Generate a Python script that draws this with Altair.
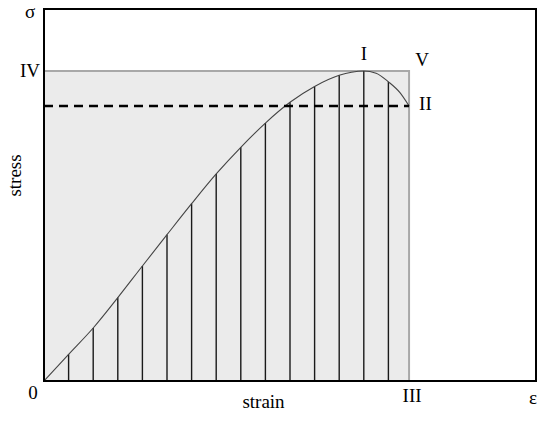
import altair as alt
import pandas as pd

# curve (strain, stress)
curve_strain = [0, 1, 2, 3, 4, 5, 6, 7, 8, 9, 10, 11, 12, 12.5, 13, 13.5, 14, 14.47, 14.84]
curve_stress = [0, 0.86, 1.71, 2.69, 3.71, 4.72, 5.72, 6.68, 7.54, 8.32, 8.99, 9.50, 9.86, 9.96, 10.0, 9.93, 9.65, 9.30, 8.87]

# hatching lines at integer strains
hatch_strain = [1, 2, 3, 4, 5, 6, 7, 8, 9, 10, 11, 12, 13, 14]
hatch_stress = [0.86, 1.71, 2.69, 3.71, 4.72, 5.72, 6.68, 7.54, 8.32, 8.99, 9.50, 9.86, 10.0, 9.65]

strain_max = 14.84
stress_peak = 10.0
peak_strain = 13
dashed_level = 8.87
x_dom = [0, 20]
y_dom = [0, 12]

FONT = "Liberation Serif"
FS = 19

xs = alt.Scale(domain=x_dom, nice=False, zero=False)
ys = alt.Scale(domain=y_dom, nice=False, zero=False)

curve_df = pd.DataFrame({"strain": curve_strain, "stress": curve_stress})
hatch_df = pd.DataFrame({"strain": hatch_strain, "stress": hatch_stress})
rect_df = pd.DataFrame({"x": [0], "x2": [strain_max], "y": [0], "y2": [stress_peak]})
frame_df = pd.DataFrame({"x": [x_dom[0]], "x2": [x_dom[1]], "y": [y_dom[0]], "y2": [y_dom[1]]})
dash_df = pd.DataFrame({"x": [0], "x2": [strain_max], "y": [dashed_level]})

xaxis = alt.Axis(title="strain", domain=False, ticks=False, labels=False, grid=False,
                 titleFont=FONT, titleFontSize=FS, titleFontWeight="normal", titleColor="black",
                 titleX=219, titleY=26, titleBaseline="alphabetic", titleAlign="center")
yaxis = alt.Axis(title="stress", domain=False, ticks=False, labels=False, grid=False,
                 titleFont=FONT, titleFontSize=FS, titleFontWeight="normal", titleColor="black",
                 titleX=-24, titleY=166, titleAngle=270, titleBaseline="alphabetic", titleAlign="center")

rect = alt.Chart(rect_df).mark_rect(fill="#ebebeb", stroke="#a8a8a8", strokeWidth=2).encode(
    x=alt.X("x:Q", scale=xs, axis=xaxis), x2="x2", y=alt.Y("y:Q", scale=ys, axis=yaxis), y2="y2")

hatch = alt.Chart(hatch_df).mark_rule(color="#1a1a1a", strokeWidth=1.4).encode(
    x=alt.X("strain:Q", scale=xs), y=alt.Y("stress:Q", scale=ys), y2=alt.datum(0))

curve = alt.Chart(curve_df).mark_line(color="#444444", strokeWidth=1.1, interpolate="monotone").encode(
    x=alt.X("strain:Q", scale=xs), y=alt.Y("stress:Q", scale=ys))

dash = alt.Chart(dash_df).mark_rule(color="black", strokeWidth=2.5, strokeDash=[9, 6]).encode(
    x=alt.X("x:Q", scale=xs), x2="x2", y=alt.Y("y:Q", scale=ys))

frame = alt.Chart(frame_df).mark_rect(fill=None, fillOpacity=0, stroke="black", strokeWidth=2).encode(
    x=alt.X("x:Q", scale=xs), x2="x2", y=alt.Y("y:Q", scale=ys), y2="y2")


def label(text, x, y, dx=0, dy=0, align="center", baseline="middle", size=FS):
    df = pd.DataFrame({"x": [x], "y": [y], "t": [text]})
    return alt.Chart(df).mark_text(font=FONT, fontSize=size, color="black", align=align,
                                   baseline=baseline, dx=dx, dy=dy).encode(
        x=alt.X("x:Q", scale=xs), y=alt.Y("y:Q", scale=ys), text="t:N")


labels = [
    label("σ", 0, y_dom[1], dx=-14, dy=9, baseline="alphabetic"),
    label("IV", 0, stress_peak, dx=-4, dy=0, align="right"),
    label("I", peak_strain, stress_peak, dx=0, dy=-17),
    label("V", strain_max, stress_peak, dx=13, dy=-11),
    label("II", strain_max, dashed_level, dx=10, dy=-2, align="left"),
    label("0", 0, 0, dx=-11, dy=12),
    label("III", strain_max, 0, dx=3, dy=15),
    label("ε", x_dom[1], 0, dx=-3, dy=17),
]

chart = alt.layer(rect, hatch, curve, dash, frame, *labels).properties(
    width=492, height=372,
    background="white",
    autosize=alt.AutoSizeParams(type="none"),
    padding={"left": 36, "top": 1, "right": 2, "bottom": 28},
).configure_view(stroke=None)

chart.save("out.html", embed_options={"renderer": "svg", "actions": False})
